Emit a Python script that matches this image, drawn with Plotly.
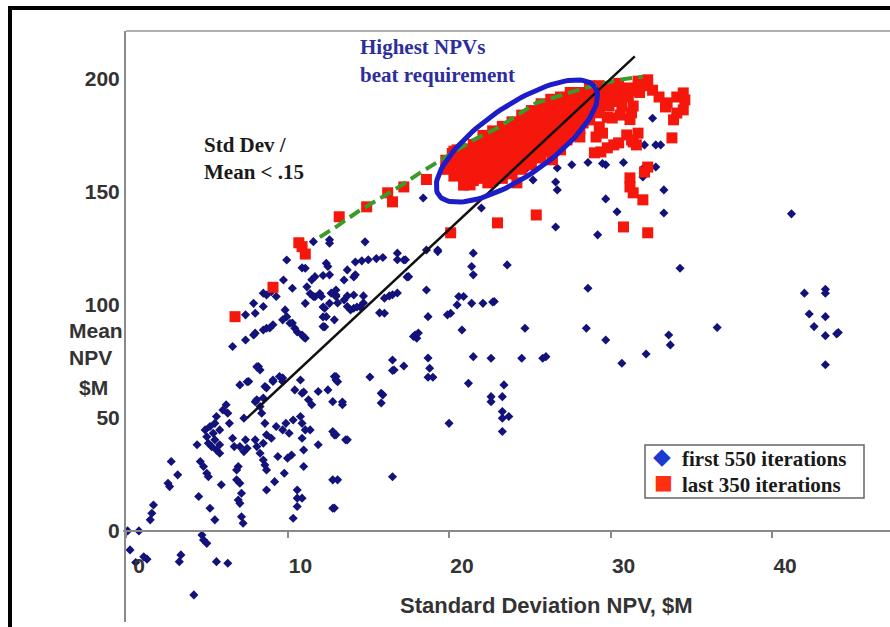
import numpy as np
import plotly.graph_objects as go

# ---------------- data (std dev NPV $M, mean NPV $M) ----------------
blue_low_left = [
    (7.05, 64.6), (7.6, 66.1), (6.2, 55.8), (6.0, 53.5), (6.3, 52.1), (6.4, 47.6), (5.6, 50.6),
    (4.9, 44.7), (5.2, 46.2), (5.4, 43.2), (5.0, 41.7), (5.5, 40.3), (5.1, 38.8), (5.3, 37.3),
    (5.6, 35.8), (5.8, 34.4), (5.8, 38.1), (5.5, 47.6), (5.8, 44.7), (4.4, 38.1), (4.6, 30.7),
    (4.8, 28.5), (5.0, 25.5), (5.1, 24.0), (4.5, 15.2), (2.8, 30.7), (3.2, 24.8), (2.6, 21.1),
    (2.7, 19.6), (1.7, 11.5), (1.6, 7.8), (1.5, 4.9), (6.6, 41.0), (6.7, 37.3), (7.05, 37.3),
    (6.95, 28.5), (6.85, 27.0), (6.85, 22.6), (7.05, 21.1), (7.15, 16.7), (6.95, 13.7),
    (7.05, 12.2), (7.15, 6.3), (7.25, 3.4), (5.9, 20.4), (5.2, 10.0), (5.5, 4.9),
    (0.1, 0.0), (0.8, 0.0), (0.25, -8.4), (1.1, -11.4), (3.4, -10.6), (3.3, -13.6), (4.7, -1.8),
    (4.8, -4.0), (5.0, -5.5), (5.6, -13.6), (6.3, -14.3), (4.2, -28.3), (0.6, -14.0), (1.3, -12.5),
]
blue_low_mid = [
    (8.6, 63.9), (9.1, 66.1), (9.7, 66.1), (10.45, 62.4), (10.9, 60.9), (11.3, 58.0), (11.5, 55.8),
    (11.9, 61.7), (12.5, 62.4), (12.8, 57.2), (7.3, 49.9), (8.0, 57.2), (8.3, 55.0), (8.4, 52.1),
    (8.6, 47.6), (8.7, 42.5), (8.5, 38.8), (9.0, 41.0), (9.3, 46.2), (9.7, 44.7), (9.9, 47.6),
    (10.1, 43.2), (10.35, 49.1), (10.8, 50.6), (10.9, 47.6), (11.1, 44.7), (11.4, 44.7),
    (10.9, 41.0), (11.0, 35.8), (11.9, 38.1), (12.8, 44.0), (13.0, 42.5), (7.4, 40.3), (7.5, 36.6),
    (7.3, 35.1), (8.0, 40.3), (8.1, 37.3), (8.3, 34.4), (8.5, 31.4), (8.7, 27.0), (8.6, 29.2),
    (8.7, 18.1), (9.2, 21.8), (9.4, 32.9), (9.8, 25.5), (10.0, 32.2), (10.25, 33.6), (11.0, 28.5),
    (10.6, 18.1), (10.6, 14.5), (10.9, 14.5), (10.6, 10.8), (10.35, 5.6), (12.8, 22.6),
    (12.8, 10.0), (8.1, 72.6), (8.3, 71.2), (7.5, 66.0), (8.7, 63.3), (9.1, 66.8), (9.7, 67.7),
    (8.1, 58.0), (8.5, 58.8), (10.8, 66.8), (11.0, 61.5), (13.1, 66.0), (13.4, 57.0), (13.7, 40.3),
    (13.1, 22.6), (12.9, 10.1), (16.5, 24.0),
]
blue_upper_left = [
    (9.95, 119.9), (11.1, 116.2), (11.6, 128.0), (12.6, 127.3), (12.4, 118.4), (12.5, 117.0),
    (12.6, 113.3), (11.5, 111.1), (11.7, 112.5), (9.75, 111.0), (10.3, 107.4), (8.7, 104.4),
    (8.5, 105.2), (9.0, 105.9), (9.3, 103.7), (7.9, 100.7), (8.5, 99.3), (8.0, 96.3), (7.4, 95.6),
    (9.85, 97.8), (9.95, 94.8), (10.15, 91.9), (10.45, 89.7), (10.9, 86.7), (11.1, 85.3),
    (9.1, 91.2), (8.7, 89.7), (8.5, 88.9), (8.0, 87.5), (7.4, 84.5), (6.6, 81.6), (11.1, 100.7),
    (11.6, 103.7), (12.1, 103.7), (12.7, 105.2), (12.3, 98.5), (12.4, 94.8), (12.2, 90.4),
    (12.6, 100.7), (13.0, 103.7), (8.2, 72.7), (9.5, 68.3), (13.0, 68.3), (7.9, 86.7), (8.9, 89.8),
    (9.7, 93.4), (10.3, 92.0), (10.6, 88.0), (11.0, 85.8), (12.3, 90.3), (12.2, 94.7), (12.2, 99.1),
    (13.1, 100.9), (13.9, 97.8), (14.5, 99.1), (10.9, 116.4), (11.2, 108.0), (11.4, 105.0),
    (12.0, 105.0), (11.7, 103.6), (12.2, 113.0),
]
blue_center = [
    (12.6, 128.8), (14.8, 127.9), (16.8, 120.0), (17.3, 120.0), (14.2, 119.0), (14.6, 119.5),
    (15.0, 120.0), (15.5, 120.5), (15.9, 121.0), (13.7, 115.5), (14.1, 112.4), (17.4, 112.4),
    (18.6, 124.3), (19.3, 124.3), (18.6, 106.6), (16.8, 105.3), (16.5, 104.5), (16.3, 104.0),
    (16.0, 103.0), (14.7, 104.0), (14.1, 104.4), (13.7, 104.0), (14.7, 100.9), (14.3, 99.1),
    (16.8, 122.9), (17.2, 119.9), (19.3, 123.6), (13.5, 111.0), (13.0, 106.6), (13.5, 102.2),
    (13.7, 99.3), (14.1, 98.5), (17.5, 112.5), (16.0, 96.3), (12.9, 93.4), (18.7, 94.8),
    (17.9, 86.7), (18.0, 85.3), (15.7, 96.5), (17.8, 86.0), (18.1, 87.6), (16.5, 71.0),
    (16.5, 75.6), (17.2, 73.0), (18.7, 68.0), (18.8, 72.0), (18.7, 76.5), (19.0, 68.0), (15.1, 68.1),
    (15.8, 56.6), (15.9, 60.2), (16.6, 71.2), (12.9, 68.3), (13.0, 66.8), (13.4, 55.8),
    (12.9, 42.5), (13.6, 40.3), (20.0, 47.6), (15.8, 60.9), (18.4, 147.3), (14.2, 113.3),
    (13.0, 104.4),
]
blue_mid_right = [
    (20.1, 96.3), (20.6, 103.7), (20.9, 103.7), (20.5, 100.0), (21.4, 100.7), (22.1, 100.7),
    (22.8, 101.5), (21.5, 122.9), (21.4, 117.0), (21.5, 113.3), (23.6, 117.7), (20.8, 88.9),
    (24.7, 89.7), (21.5, 77.1), (22.6, 76.4), (24.5, 76.4), (25.8, 76.4), (26.0, 77.1), (21.2, 65.3),
    (23.4, 64.6), (23.3, 59.4), (22.6, 59.4), (22.6, 57.2), (23.3, 52.8), (23.3, 49.9),
    (23.7, 50.6), (23.3, 44.0), (19.9, 95.6), (22.7, 101.3),
    (22.0, 142.9), (26.6, 134.5), (29.2, 131.0), (25.2, 155.3), (23.9, 160.6), (24.7, 159.7),
    (27.6, 162.0), (28.6, 163.0), (29.7, 162.0), (30.8, 163.0), (26.7, 160.6), (26.6, 154.4),
    (26.7, 150.9), (29.7, 146.9), (30.4, 141.2), (33.3, 140.7), (33.3, 150.9), (32.1, 161.0),
    (32.8, 161.0), (32.1, 170.8), (32.8, 170.8), (33.1, 170.8), (32.6, 182.6), (41.2, 140.3),
    (22.2, 155.0), (21.6, 158.0), (29.5, 162.6), (32.0, 156.6),
]
blue_far_right = [
    (34.3, 116.2), (28.6, 107.4), (28.5, 89.7), (29.7, 84.5), (30.7, 74.2), (32.2, 78.3),
    (33.6, 86.7), (33.7, 82.3), (36.6, 90.0), (42.0, 105.2), (43.3, 106.9), (43.3, 105.2),
    (42.3, 96.0), (42.6, 90.4), (43.3, 94.8), (43.3, 86.4), (44.0, 87.2), (44.1, 87.8), (43.3, 73.5),
]

red_sparse = [
    (6.75, 94.8), (9.1, 107.8), (10.7, 127.5), (10.9, 125.8), (11.1, 122.5), (13.2, 139.0),
    (14.9, 143.4), (16.2, 149.6), (16.5, 145.6), (17.2, 152.2), (18.6, 155.5), (19.9, 160.6),
    (20.1, 131.9), (23.0, 136.3), (25.4, 139.8), (24.2, 154.0), (22.4, 154.0), (21.3, 153.1),
    (20.2, 167.0), (20.5, 168.6),
    (31.8, 194.0), (32.3, 199.6), (31.2, 182.0), (31.4, 188.0), (30.6, 184.0), (30.7, 188.0),
    (30.1, 182.7), (29.3, 178.8), (29.1, 174.3), (28.7, 181.9), (28.3, 186.3), (28.1, 174.3),
    (33.5, 189.4), (34.1, 192.0), (34.5, 193.8), (34.5, 186.3), (33.9, 181.9), (34.1, 184.9),
    (34.6, 190.7), (33.8, 173.9), (31.0, 175.2), (31.4, 172.1), (31.6, 170.8), (30.2, 170.8),
    (29.8, 169.5), (29.4, 167.7), (29.0, 167.3), (32.3, 161.0), (32.1, 158.8), (31.2, 156.2),
    (31.2, 152.2), (31.4, 149.6), (32.0, 146.5), (30.8, 134.5), (32.3, 131.9), (27.3, 173.0),
    (26.9, 168.6), (26.4, 164.2), (28.3, 180.5), (33.4, 187.6), (31.3, 185.0), (31.7, 176.0),
    (31.3, 173.0), (29.8, 183.0), (29.5, 176.0), (30.5, 171.7), (32.1, 197.0), (32.6, 195.0),
    (33.0, 192.0),
]
red_cluster = [
    (19.8, 160), (19.8, 164),
    (20.3, 157), (20.3, 161), (20.3, 165), (20.3, 168),
    (20.9, 153), (20.9, 157), (20.9, 161), (20.9, 165), (20.9, 169),
    (21.5, 155), (21.5, 159), (21.5, 163), (21.5, 167), (21.5, 171),
    (22.1, 156), (22.1, 160), (22.1, 164), (22.1, 168), (22.1, 172), (22.1, 175),
    (22.7, 155), (22.7, 159), (22.7, 163), (22.7, 167), (22.7, 171), (22.7, 175), (22.7, 177),
    (23.3, 156), (23.3, 160), (23.3, 164), (23.3, 168), (23.3, 172), (23.3, 176), (23.3, 179),
    (23.9, 158), (23.9, 162), (23.9, 166), (23.9, 170), (23.9, 174), (23.9, 178), (23.9, 181),
    (24.5, 160), (24.5, 164), (24.5, 168), (24.5, 172), (24.5, 176), (24.5, 180), (24.5, 184),
    (25.1, 162), (25.1, 166), (25.1, 170), (25.1, 174), (25.1, 178), (25.1, 182), (25.1, 186),
    (25.7, 165), (25.7, 169), (25.7, 173), (25.7, 177), (25.7, 181), (25.7, 185), (25.7, 189),
    (26.3, 168), (26.3, 172), (26.3, 176), (26.3, 180), (26.3, 184), (26.3, 188), (26.3, 191),
    (26.9, 172), (26.9, 176), (26.9, 180), (26.9, 184), (26.9, 188), (26.9, 192),
    (27.5, 175), (27.5, 179), (27.5, 183), (27.5, 187), (27.5, 191), (27.5, 194),
    (28.1, 178), (28.1, 182), (28.1, 186), (28.1, 190), (28.1, 194),
    (28.7, 182), (28.7, 186), (28.7, 190), (28.7, 194), (28.7, 197),
    (29.3, 185), (29.3, 189), (29.3, 193), (29.3, 197),
    (29.9, 188), (29.9, 192), (29.9, 196),
    (30.5, 190), (30.5, 194), (30.5, 198),
    (31.1, 192), (31.1, 196),
    (31.7, 195), (31.7, 199),
]

frontier_sd = [12.0, 13.1, 14.3, 16.8, 18.2, 21.5, 23.0, 25.4, 26.6, 28.4, 30.5, 32.0]
frontier_mean = [130, 135, 141, 151.8, 158.4, 173, 178.3, 189.4, 192, 196, 199.6, 201]

ratio_limit = 0.15            # Std Dev / Mean
ratio_sd = [7.5, 31.5]

x_ticks = [0, 10, 20, 30, 40]
y_ticks = [0, 50, 100, 150, 200]
legend_labels = ["first 550 iterations", "last 350 iterations"]

# ---------------- figure ----------------
W, H = 890, 627
ML, MR, MT, MB = 126, 0, 31, 5
XR = [0, 47.3]
YR = [-40.3, 221.2]
PW, PH = W - ML - MR, H - MT - MB


def px_x(p):
    return (p - ML) / PW


def px_y(p):
    return (H - MB - p) / PH


blue_all = blue_low_left + blue_low_mid + blue_upper_left + blue_center + blue_mid_right + blue_far_right
red_all = red_cluster + red_sparse

fig = go.Figure()
fig.add_trace(go.Scatter(
    x=[p[0] for p in blue_all], y=[p[1] for p in blue_all], mode="markers", name=legend_labels[0],
    marker=dict(symbol="diamond", size=7, color="#12127a"), showlegend=False, cliponaxis=False))
fig.add_trace(go.Scatter(
    x=[p[0] for p in red_all], y=[p[1] for p in red_all], mode="markers", name=legend_labels[1],
    marker=dict(symbol="square", size=11, color="#f5160c"), showlegend=False, cliponaxis=False))
fig.add_trace(go.Scatter(
    x=frontier_sd, y=frontier_mean, mode="lines",
    line=dict(color="#3a9a2a", width=4, dash="12px,6px"), showlegend=False))
fig.add_trace(go.Scatter(
    x=ratio_sd, y=[s / ratio_limit for s in ratio_sd], mode="lines",
    line=dict(color="#111111", width=2.5), showlegend=False))

# ellipse annotation (drawn in pixel space, mapped to data)
ppx = PW / (XR[1] - XR[0])
ppy = PH / (YR[1] - YR[0])
cx, cy, a, b, th = 24.2, 172.5, 95.0, 35.0, np.radians(34.6)
t = np.linspace(0, 2 * np.pi, 120)
ex = cx + (a * np.cos(t) * np.cos(th) - b * np.sin(t) * np.sin(th)) / ppx
ey = cy + (a * np.cos(t) * np.sin(th) + b * np.sin(t) * np.cos(th)) / ppy
fig.add_trace(go.Scatter(x=ex, y=ey, mode="lines", line=dict(color="#1c1cc8", width=5),
                         showlegend=False, hoverinfo="skip"))

sans = "Liberation Sans, Arial, sans-serif"
serif = "Liberation Serif, Times New Roman, serif"

fig.update_layout(
    width=W, height=H, margin=dict(l=ML, r=MR, t=MT, b=MB, autoexpand=False),
    paper_bgcolor="white", plot_bgcolor="white", showlegend=False,
    xaxis=dict(range=XR, anchor="free", position=px_y(531), showline=True, linecolor="#8a8a8a",
               linewidth=2, ticks="outside", ticklen=6, tickwidth=1.5, tickcolor="#8a8a8a",
               tickvals=x_ticks, ticktext=[str(v) for v in x_ticks], showgrid=False, zeroline=False,
               tickfont=dict(family=sans, size=21, color="#333333", weight="bold"),
               ticklabelshift=13, ticklabelstandoff=10, automargin=False),
    yaxis=dict(range=YR, showline=True, linecolor="#8a8a8a", linewidth=2, ticks="",
               tickvals=y_ticks, ticktext=[str(v) for v in y_ticks], showgrid=False, zeroline=False,
               tickfont=dict(family=sans, size=21, color="#333333", weight="bold"),
               automargin=False),
)

# frame lines
fig.add_shape(type="line", xref="paper", yref="paper", x0=0, x1=1, y0=1, y1=1,
              line=dict(color="#b0b0b0", width=2))
fig.add_shape(type="rect", xref="paper", yref="paper", x0=px_x(10), x1=1.1, y0=-0.1, y1=px_y(8),
              line=dict(color="black", width=4))

# legend box (manual, to match compact spacing)
fig.add_shape(type="rect", xref="paper", yref="paper", x0=px_x(645), x1=px_x(864),
              y0=px_y(498), y1=px_y(445), line=dict(color="#666666", width=1.5), fillcolor="white",
              layer="above")
fig.add_annotation(text="\u25c6", xref="paper", yref="paper", x=px_x(662), y=px_y(456),
                   xanchor="center", yanchor="middle", showarrow=False,
                   font=dict(family="DejaVu Sans", size=23, color="#1a3ad0"))
fig.add_annotation(text="\u25a0", xref="paper", yref="paper", x=px_x(663), y=px_y(482),
                   xanchor="center", yanchor="middle", showarrow=False,
                   font=dict(family="DejaVu Sans", size=20, color="#ff3010"))

ann = [
    (legend_labels[0], 680, 459, "left", serif, 21, "#1a1a1a"),
    (legend_labels[1], 680, 485, "left", serif, 21, "#1a1a1a"),
    ("Highest NPVs", 358, 47, "left", serif, 21, "#2d2d9c"),
    ("beat requirement", 358, 75, "left", serif, 21, "#2d2d9c"),
    ("Std Dev /", 202, 145, "left", serif, 21, "#1a1a1a"),
    ("Mean &lt; .15", 202, 172, "left", serif, 21, "#1a1a1a"),
    ("Mean", 96, 330, "center", sans, 21, "#333333"),
    ("NPV", 90, 357, "center", sans, 21, "#333333"),
    ("$M", 93, 388, "center", sans, 21, "#333333"),
    ("Standard Deviation NPV, $M", 546, 605, "center", sans, 22, "#333333"),
]
for txt, x, y, anc, fam, sz, col in ann:
    fig.add_annotation(text="<b>" + txt + "</b>", xref="paper", yref="paper", x=px_x(x), y=px_y(y),
                       xanchor=anc, yanchor="middle", showarrow=False,
                       font=dict(family=fam, size=sz, color=col))

fig.write_html("out.html", config={"displayModeBar": False},
               post_script="document.body.style.margin='0';")
